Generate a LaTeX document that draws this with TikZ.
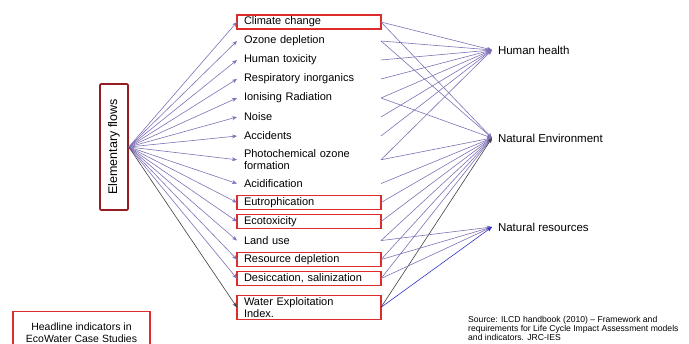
\documentclass[tikz,border=0pt]{standalone}
\usepackage{fontspec}
\setmainfont{Liberation Sans}
\usepackage{tikz}
\usetikzlibrary{positioning, arrows.meta}

\definecolor{flowcol}{RGB}{128,112,182}
\definecolor{boxred}{RGB}{222,44,44}
\definecolor{darkred}{RGB}{150,28,36}
\definecolor{resblue}{RGB}{50,50,205}

\begin{document}
\begin{tikzpicture}[
        x=1pt, y=1pt,
        node distance=5pt,
        every node/.style={font=\fontsize{11}{12.5}\selectfont},
        item/.style={anchor=west, align=left, text width=130pt, inner xsep=7pt, inner ysep=1.5pt, minimum height=14pt, outer sep=0pt},
        itembox/.style={item, draw=boxred, line width=1.1pt},
        target/.style={anchor=west, inner xsep=6pt, inner ysep=1pt, outer sep=0pt, font=\fontsize{11.5}{13}\selectfont},
        flow/.style={draw=flowcol, line width=0.6pt, -{Stealth[length=5pt, width=4pt]}},
        wflow/.style={flow, draw=black!75},
        rflow/.style={flow, draw=resblue}
    ]
        \clip (0,0) rectangle (689,-344);

        % Nodes
        \node[draw=darkred, line width=1.6pt, rounded corners=1pt, rotate=90, minimum width=126pt, minimum height=28pt, inner sep=2pt,
              font=\fontsize{12.5}{14}\selectfont] (ef) at (114,-147) {Elementary flows};

        \node[itembox] (cc) at (237,-22) {Climate change};
        \node[item, below=of cc] (od) {Ozone depletion};
        \node[item, below=of od] (ht) {Human toxicity};
        \node[item, below=of ht] (ri) {Respiratory inorganics};
        \node[item, below=of ri] (ir) {Ionising Radiation};
        \node[item, below=of ir] (no) {Noise};
        \node[item, below=of no] (ac) {Accidents};
        \node[item, below=of ac] (po) {Photochemical ozone\\formation};
        \node[item, below=of po] (ad) {Acidification};
        \node[itembox, below=of ad] (eu) {Eutrophication};
        \node[itembox, below=of eu] (et) {Ecotoxicity};
        \node[item, below=of et] (lu) {Land use};
        \node[itembox, below=of lu] (rd) {Resource depletion};
        \node[itembox, below=of rd] (ds) {Desiccation, salinization};
        \node[itembox, below=10pt of ds] (wei) {Water Exploitation\\Index.};

        \node[target] (hh) at (492,-50) {Human health};
        \node[target] (ne) at (492,-138) {Natural Environment};
        \node[target] (nr) at (492,-227) {Natural resources};

        \node[draw=boxred, line width=1.1pt, anchor=north, align=center, minimum width=137pt, minimum height=42pt, inner sep=3pt,
              font=\fontsize{10.5}{12.5}\selectfont] (hl) at (81.5,-311) {Headline indicators in\\EcoWater Case Studies};

        \node[anchor=north west, align=left, inner sep=0pt, font=\fontsize{8.6}{8.8}\selectfont] (src) at (468,-316)
            {Source: ILCD handbook (2010) -- Framework and\\requirements for Life Cycle Impact Assessment models\\and indicators. JRC-IES};

        % Arrows from elementary flows
        \draw[flow] (ef.south) -- (cc.west);
        \draw[flow] (ef.south) -- (od.west);
        \draw[flow] (ef.south) -- (ht.west);
        \draw[flow] (ef.south) -- (ri.west);
        \draw[flow] (ef.south) -- (ir.west);
        \draw[flow] (ef.south) -- (no.west);
        \draw[flow] (ef.south) -- (ac.west);
        \draw[flow] (ef.south) -- (po.west);
        \draw[flow] (ef.south) -- (ad.west);
        \draw[flow] (ef.south) -- (eu.west);
        \draw[flow] (ef.south) -- (et.west);
        \draw[flow] (ef.south) -- (lu.west);
        \draw[flow] (ef.south) -- (rd.west);
        \draw[flow] (ef.south) -- (ds.west);
        \draw[wflow] (ef.south) -- (wei.west);

        % Arrows to human health
        \draw[flow] (cc.east) -- (hh.west);
        \draw[flow] (od.east) -- (hh.west);
        \draw[flow] (ht.east) -- (hh.west);
        \draw[flow] (ri.east) -- (hh.west);
        \draw[flow] (ir.east) -- (hh.west);
        \draw[flow] (no.east) -- (hh.west);
        \draw[flow] (ac.east) -- (hh.west);
        \draw[flow] (po.east) -- (hh.west);

        % Arrows to natural environment
        \draw[flow] (cc.east) -- (ne.west);
        \draw[flow] (od.east) -- (ne.west);
        \draw[flow] (ir.east) -- (ne.west);
        \draw[flow] (po.east) -- (ne.west);
        \draw[flow] (ad.east) -- (ne.west);
        \draw[flow] (eu.east) -- (ne.west);
        \draw[flow] (et.east) -- (ne.west);
        \draw[flow] (lu.east) -- (ne.west);
        \draw[flow] (rd.east) -- (ne.west);
        \draw[flow] (ds.east) -- (ne.west);
        \draw[wflow] (wei.east) -- (ne.west);

        % Arrows to natural resources
        \draw[flow] (lu.east) -- (nr.west);
        \draw[flow] (rd.east) -- (nr.west);
        \draw[flow] (ds.east) -- (nr.west);
        \draw[rflow] (wei.east) -- (nr.west);
    \end{tikzpicture}
\end{document}
